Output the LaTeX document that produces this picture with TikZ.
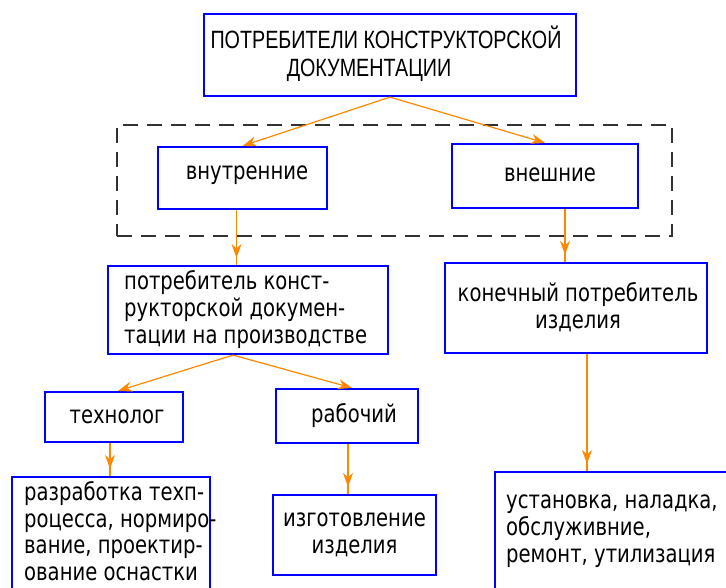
\documentclass[tikz,border=0pt]{standalone}
\usepackage{fontspec}
\setmainfont{Liberation Sans}
\newfontfamily\capsfont[FakeStretch=0.79]{Liberation Sans}
\newfontfamily\lowfont[FakeStretch=0.8]{DejaVu Sans}
\usetikzlibrary{arrows.meta,decorations.markings}
\definecolor{boxblue}{RGB}{0,0,255}
\definecolor{arrorange}{RGB}{255,136,0}
\definecolor{dashgray}{RGB}{50,50,50}
\tikzset{
  box/.style={draw=boxblue,line width=2.2pt,rectangle,inner sep=0pt},
  lbl/.style={font=\lowfont\fontsize{24.5}{27}\selectfont,inner sep=0pt},
  caps/.style={font=\capsfont\fontsize{25}{28}\selectfont,inner sep=0pt,align=center},
  flow/.style={draw=arrorange,line width=1.2pt,-{Stealth[length=14pt,width=10pt]}},
  vflow/.style={draw=arrorange,color=arrorange,line width=1.2pt,postaction={decorate},
    decoration={markings,mark=at position -7pt with {\arrow{Stealth[length=14pt,width=10pt]}}}},
  frame/.style={draw=dashgray,line width=1.3pt,dash pattern=on 15pt off 9pt,rectangle,inner sep=0pt}
}
\begin{document}
\begin{tikzpicture}[x=1pt,y=-1pt]
\path[use as bounding box,clip] (0,0) rectangle (726,587);
\fill[white] (0,0) rectangle (726,587);

% dashed group frame
\node[frame,minimum width=555pt,minimum height=111pt] (grp) at (394.5,180.5) {};

% boxes
\node[box,minimum width=372pt,minimum height=82pt] (top) at (390,55) {};
\node[box,minimum width=169pt,minimum height=62pt] (vnutr) at (242.5,178) {};
\node[box,minimum width=186pt,minimum height=64pt] (vnesh) at (545,176) {};
\node[box,minimum width=280pt,minimum height=88pt] (potreb) at (248,310) {};
\node[box,minimum width=262pt,minimum height=90pt] (konech) at (576,308) {};
\node[box,minimum width=138pt,minimum height=50pt] (tehn) at (114,417) {};
\node[box,minimum width=142pt,minimum height=54pt] (rab) at (347,416) {};
\node[box,minimum width=198pt,minimum height=114pt] (razrab) at (111,534) {};
\node[box,minimum width=163pt,minimum height=80pt] (izg) at (354.5,535) {};
\node[box,minimum width=250pt,minimum height=136pt] (ustan) at (620,540) {};

% texts
\node[caps] (topT) at (386,54) {ПОТРЕБИТЕЛИ КОНСТРУКТОРСКОЙ\\ДОКУМЕНТАЦИИ\hspace*{34pt}};
\node[lbl] (vnutrT) at (247,175) {внутренние};
\node[lbl] (vneshT) at (550,175) {внешние};
\node[lbl,anchor=west,align=left] (potrebT) at (124,310) {потребитель конст-\\рукторской докумен-\\тации на производстве};
\node[lbl,align=center] (konechT) at (578,307) {конечный потребитель\\изделия};
\node[lbl] (tehnT) at (117,417) {технолог};
\node[lbl] (rabT) at (354,416) {рабочий};
\node[lbl,anchor=west,align=left,font=\lowfont\fontsize{24.5}{26.5}\selectfont] (razrabT) at (24,531) {разработка техп-\\роцесса, нормиро-\\вание, проектир-\\ование оснастки};
\node[lbl,align=center] (izgT) at (354.5,535) {изготовление\\изделия};
\node[lbl,anchor=west,align=left] (ustanT) at (506,531) {установка, наладка,\\обслуживние,\\ремонт, утилизация};

% connectors
\draw[flow] (top.south) -- (vnutr.north);
\draw[flow] (top.south) -- (vnesh.north);
\draw[vflow] ([xshift=-6pt]vnutr.south) -- ([xshift=-6pt]vnutr.south |- potreb.north);
\draw[vflow] ([xshift=20pt]vnesh.south) -- ([xshift=20pt]vnesh.south |- konech.north);
\draw[flow] ([xshift=-15pt]potreb.south) -- ([xshift=4pt]tehn.north);
\draw[flow] ([xshift=-15pt]potreb.south) -- ([xshift=5pt]rab.north);
\draw[vflow] ([xshift=-4pt]tehn.south) -- ([xshift=-4pt]tehn.south |- razrab.north);
\draw[vflow] ([xshift=1pt]rab.south) -- ([xshift=1pt]rab.south |- izg.north);
\draw[vflow] ([xshift=11pt]konech.south) -- ([xshift=11pt]konech.south |- ustan.north);
\end{tikzpicture}
\end{document}
